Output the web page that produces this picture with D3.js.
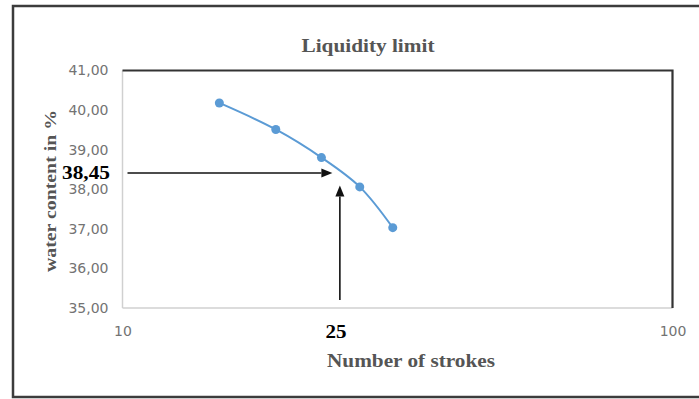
<!DOCTYPE html>
<html><head><meta charset="utf-8">
<script src="https://cdn.jsdelivr.net/npm/d3@7"></script>
<style>html,body{margin:0;padding:0;background:#fff;} svg{display:block;}</style>
</head><body>
<svg id="chart" width="699" height="399"></svg>
<script>
// Casagrande test readings: number of strokes vs water content (%)
const strokes = [15, 19, 23, 27, 31];
const water = [40.18, 39.51, 38.80, 38.06, 37.03];
const xTicks = [10, 100];
const yTicks = [35, 36, 37, 38, 39, 40, 41];
// liquid limit read at 25 strokes
const readStrokes = 25;
const readWater = 38.45;
const titleText = "Liquidity limit";
const xTitleText = "Number of strokes";
const yTitleText = "water content in %";

const svg = d3.select("#chart");
const plot = {left: 122.5, right: 672.5, top: 70.5, bottom: 308};
const x = d3.scaleLog().domain([10, 100]).range([plot.left, plot.right]);
const y = d3.scaleLinear().domain([35, 41]).range([plot.bottom, plot.top]);
const locale = d3.formatLocale({decimal: ",", thousands: ".", grouping: [3], currency: ["", " €"]});
const fmt2 = locale.format(".2f");
const serif = "'Liberation Serif', 'Times New Roman', serif";
const sans = "'DejaVu Sans', sans-serif";

// outer chart frame
svg.append("rect")
  .attr("x", 13).attr("y", 6).attr("width", 720).attr("height", 391)
  .attr("fill", "none").attr("stroke", "#3c3c3c").attr("stroke-width", 2.5);

// plot area borders: light left/bottom, dark top/right
svg.append("line").attr("x1", plot.left).attr("x2", plot.left).attr("y1", plot.top).attr("y2", plot.bottom)
  .attr("stroke", "#d0d0d0").attr("stroke-width", 1.5);
svg.append("line").attr("x1", plot.left).attr("x2", plot.right).attr("y1", plot.bottom).attr("y2", plot.bottom)
  .attr("stroke", "#d0d0d0").attr("stroke-width", 1.5);
svg.append("path")
  .attr("d", `M${plot.left},${plot.top}H${plot.right}V${plot.bottom}`)
  .attr("fill", "none").attr("stroke", "#333").attr("stroke-width", 2.2);

// axes
const yAxis = svg.append("g").attr("transform", `translate(${plot.left},0)`)
  .call(d3.axisLeft(y).tickValues(yTicks).tickSize(0).tickPadding(14).tickFormat(fmt2));
const xAxis = svg.append("g").attr("transform", `translate(0,${plot.bottom})`)
  .call(d3.axisBottom(x).tickValues(xTicks).tickSize(0).tickPadding(18).tickFormat(d3.format("d")));
[yAxis, xAxis].forEach(g => {
  g.select(".domain").remove();
  g.selectAll("text").attr("font-family", sans).attr("font-size", 14).attr("fill", "#737373");
});

// smoothed line through the readings
svg.append("path")
  .attr("d", d3.line().x(d => x(d)).y((d, i) => y(water[i])).curve(d3.curveCatmullRom.alpha(0.5))(strokes))
  .attr("fill", "none").attr("stroke", "#5b9bd5").attr("stroke-width", 2);

svg.append("g").selectAll("circle").data(strokes).join("circle")
  .attr("cx", (d) => x(d)).attr("cy", (d, i) => y(water[i]))
  .attr("r", 4.5).attr("fill", "#5b9bd5");

// reading arrows
const ax = x(readStrokes), ay = y(readWater);
function arrow(x1, y1, x2, y2) {
  const ang = Math.atan2(y2 - y1, x2 - x1), L = 11, hw = 4.5;
  const bx = x2 - L * Math.cos(ang), by = y2 - L * Math.sin(ang);
  svg.append("line").attr("x1", x1).attr("y1", y1).attr("x2", bx).attr("y2", by)
    .attr("stroke", "#111").attr("stroke-width", 1.6);
  svg.append("path")
    .attr("d", `M${x2},${y2}L${bx - hw * Math.sin(ang)},${by + hw * Math.cos(ang)}L${bx + hw * Math.sin(ang)},${by - hw * Math.cos(ang)}Z`)
    .attr("fill", "#111");
}
arrow(plot.left + 5, ay + 1.5, ax - 9, ay + 1.5);
arrow(ax - 1.5, plot.bottom - 8, ax - 1.5, ay + 14);

// annotation values
svg.append("text").attr("x", 110).attr("y", 178.5).attr("text-anchor", "end")
  .attr("font-family", serif).attr("font-weight", "bold").attr("font-size", 18).attr("fill", "#000")
  .attr("textLength", 48).attr("lengthAdjust", "spacingAndGlyphs")
  .text(locale.format(".2f")(readWater));
svg.append("text").attr("x", 336).attr("y", 337.5).attr("text-anchor", "middle")
  .attr("font-family", serif).attr("font-weight", "bold").attr("font-size", 18).attr("fill", "#000")
  .attr("textLength", 21).attr("lengthAdjust", "spacingAndGlyphs")
  .text(readStrokes);

// titles
svg.append("text").attr("x", 368).attr("y", 52).attr("text-anchor", "middle")
  .attr("font-family", serif).attr("font-weight", "bold").attr("font-size", 18).attr("fill", "#555")
  .attr("textLength", 133).attr("lengthAdjust", "spacingAndGlyphs")
  .text(titleText);
svg.append("text").attr("x", 411).attr("y", 367).attr("text-anchor", "middle")
  .attr("font-family", serif).attr("font-weight", "bold").attr("font-size", 18).attr("fill", "#555")
  .attr("textLength", 168).attr("lengthAdjust", "spacingAndGlyphs")
  .text(xTitleText);
svg.append("text").attr("transform", "translate(55.5,191) rotate(-90)").attr("text-anchor", "middle")
  .attr("font-family", serif).attr("font-weight", "bold").attr("font-size", 17).attr("fill", "#555")
  .attr("textLength", 162).attr("lengthAdjust", "spacingAndGlyphs")
  .text(yTitleText);
</script>
</body></html>
